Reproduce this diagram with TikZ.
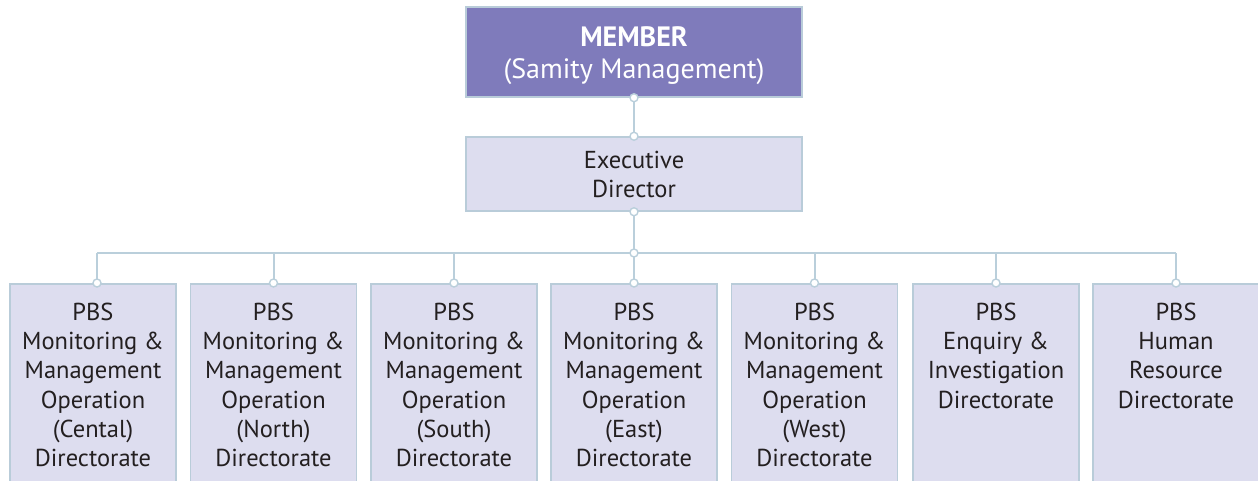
\documentclass[tikz,border=0pt]{standalone}
\usepackage{fontspec}
\setmainfont{PT Sans}
\definecolor{memfill}{HTML}{7F7BBB}
\definecolor{boxfill}{HTML}{DDDDEF}
\definecolor{boxline}{HTML}{B9CCD9}
\definecolor{conline}{HTML}{BACFDB}
\definecolor{txt}{HTML}{231F20}
\begin{document}
\begin{tikzpicture}[x=1pt,y=-1pt,
  membox/.style={draw=boxline,line width=1.5pt,fill=memfill,minimum width=336pt,minimum height=90pt,inner sep=0pt},
  exbox/.style={draw=boxline,line width=1.5pt,fill=boxfill,minimum width=336pt,minimum height=74pt,inner sep=0pt},
  lowbox/.style={draw=boxline,line width=1.5pt,fill=boxfill,minimum width=166pt,minimum height=200pt,inner sep=0pt},
  lbl/.style={align=center,text=txt,font=\fontsize{24.5}{29.3}\selectfont,inner sep=0pt},
  memlbl/.style={align=center,text=white,font=\fontsize{28}{32}\selectfont,inner sep=0pt},
  conn/.style={draw=conline,line width=2pt},
  dot/.style={circle,draw=conline,line width=1.4pt,fill=white,minimum size=8pt,inner sep=0pt}]
\useasboundingbox (0,0) rectangle (1258,480);
% boxes
\node[membox] (mem) at (634,52) {};
\node[memlbl] (memt) at (634,56) {\textbf{MEMBER}\\(Samity Management)};
\node[exbox] (ex) at (634,174) {};
\node[lbl] (ext) at (634,174.5) {Executive\\Director};
\node[lowbox,anchor=north] (b1) at (93,283) {};
\node[lowbox,anchor=north] (b2) at (273.5,283) {};
\node[lowbox,anchor=north] (b3) at (454,283) {};
\node[lowbox,anchor=north] (b4) at (634,283) {};
\node[lowbox,anchor=north] (b5) at (814.5,283) {};
\node[lowbox,anchor=north] (b6) at (996,283) {};
\node[lowbox,anchor=north] (b7) at (1176,283) {};
\node[lbl,anchor=north] (t1) at (93,302.5) {PBS\\Monitoring \&\\Management\\Operation\\(Cental)\\Directorate};
\node[lbl,anchor=north] (t2) at (273.5,302.5) {PBS\\Monitoring \&\\Management\\Operation\\(North)\\Directorate};
\node[lbl,anchor=north] (t3) at (454,302.5) {PBS\\Monitoring \&\\Management\\Operation\\(South)\\Directorate};
\node[lbl,anchor=north] (t4) at (634,302.5) {PBS\\Monitoring \&\\Management\\Operation\\(East)\\Directorate};
\node[lbl,anchor=north] (t5) at (814.5,302.5) {PBS\\Monitoring \&\\Management\\Operation\\(West)\\Directorate};
\node[lbl,anchor=north] (t6) at (996,302.5) {PBS\\Enquiry \&\\Investigation\\Directorate};
\node[lbl,anchor=north] (t7) at (1176,302.5) {PBS\\Human\\Resource\\Directorate};
% connectors
\coordinate (j) at (634,253);
\coordinate (c1) at (97,283);
\coordinate (bl) at (97,253);
\coordinate (br) at (1176,253);
\draw[conn] (mem.south) -- (ex.north);
\draw[conn] (ex.south) -- (j);
\draw[conn] (bl) -- (br);
\draw[conn] (bl) -- (c1);
\foreach \b in {b2,b3,b4,b5,b6,b7}{\draw[conn] (\b.north |- j) -- (\b.north);}
% dots
\node[dot] (d0) at (mem.south) {};
\node[dot] (d1) at (ex.north) {};
\node[dot] (d2) at (ex.south) {};
\node[dot] (d3) at (j) {};
\node[dot] (e1) at (c1) {};
\foreach \b in {b2,b3,b4,b5,b6,b7}{\node[dot] (e\b) at (\b.north) {};}
\end{tikzpicture}
\end{document}
